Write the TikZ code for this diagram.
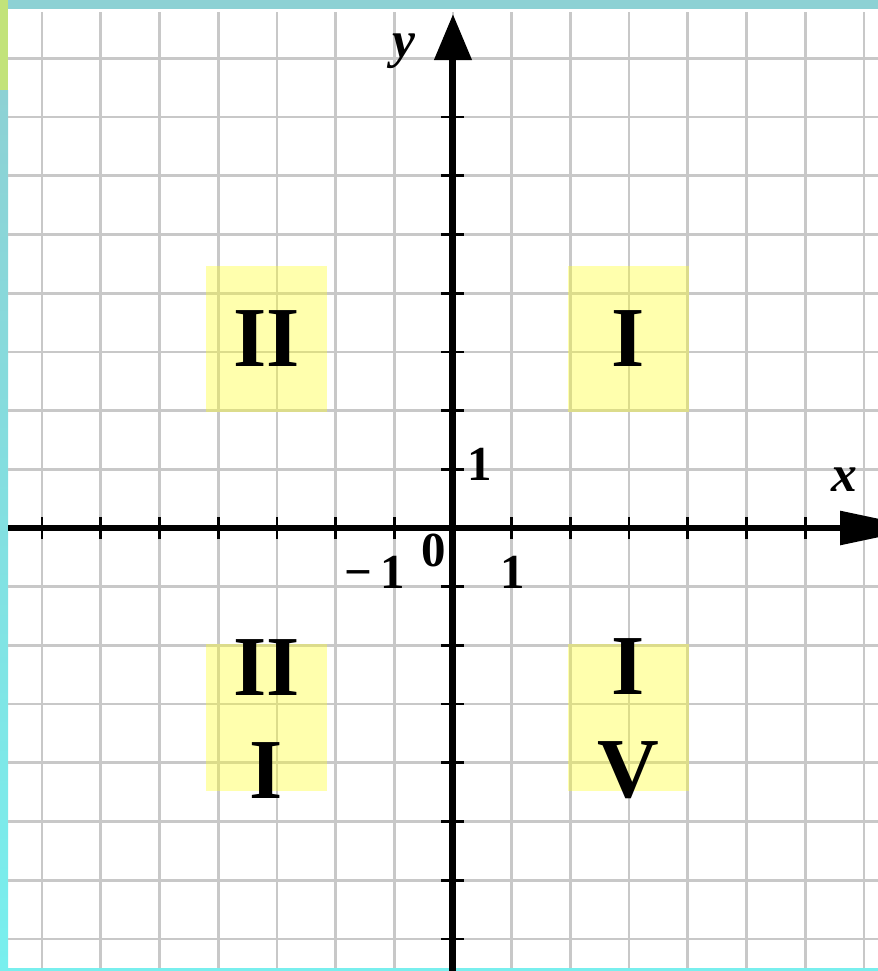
\documentclass[tikz,border=0pt]{standalone}
\usepackage{fontspec}
\setmainfont{Liberation Serif}
\usetikzlibrary{calc,arrows.meta,positioning}
\definecolor{gridgrey}{RGB}{200,200,200}
\definecolor{framecyan}{RGB}{141,209,212}
\definecolor{framelight}{RGB}{120,239,238}
\definecolor{framegreen}{RGB}{194,227,122}
\definecolor{boxyellow}{RGB}{255,255,40}

\begin{document}
\begin{tikzpicture}[x=1cm,y=1cm]

\tikzset{gridline/.style={draw=gridgrey,line width=1.3pt},
axisline/.style={draw=black,line width=2.8pt},
tickline/.style={draw=black,line width=1.3pt},
yellowbox/.style={fill=boxyellow,fill opacity=0.38,inner sep=0pt,minimum width=2.06cm,minimum height=2.5cm},
romannode/.style={inner sep=0pt,align=center,font=\fontsize{41.4}{50}\selectfont\bfseries},
numnode/.style={inner sep=0pt,font=\fontsize{23.7}{28}\selectfont\bfseries},
axislabel/.style={inner sep=0pt,font=\fontsize{25}{30}\selectfont\bfseries\itshape}}

\useasboundingbox (-7.717,-7.547) rectangle (7.240,8.995);
\clip (-7.717,-7.547) rectangle (7.240,8.995);

% Frame
\fill[framecyan] (-7.58,8.84) rectangle (7.24,8.995);
\shade[top color=framecyan,bottom color=framelight] (-7.717,-7.547) rectangle (-7.58,7.46);
\fill[framegreen] (-7.717,7.46) rectangle (-7.58,8.995);
\fill[framelight] (-7.58,-7.547) rectangle (7.24,-7.496);

% Grid
\foreach \x in {-7,...,7} \draw[gridline] (\x,-7.496) -- (\x,8.79);
\foreach \y in {-7,...,8} \draw[gridline] (-7.58,\y) -- (7.24,\y);

% Quarter boxes
\node[yellowbox] (q2) at (-3.178,3.22) {};
\node[yellowbox] (q1) at (2.99,3.22) {};
\node[yellowbox] (q3) at (-3.178,-3.228) {};
\node[yellowbox] (q4) at (2.99,-3.228) {};

% Quarter labels
\node[romannode] (l2) at (q2.center) {II};
\node[romannode] (l1) at (q1.center) {I};
\node[romannode] (l3) at ($(q3.center)+(0,-0.02)$) {II\\I};
\node[romannode] (l4) at ($(q4.center)+(0,-0.02)$) {I\\V};

% Axes
\coordinate (o) at (0,0);
\coordinate (xstart) at (-7.58,0);
\coordinate (xend) at (8.0,0);
\coordinate (ystart) at (0,-7.6);
\coordinate (yend) at (0,8.756);
\draw[axisline,-{Triangle[length=40pt,width=16pt]}] (xstart) -- (xend);
\draw[axisline,line width=3.4pt,-{Triangle[length=22.3pt,width=17.5pt]}] (ystart) -- (yend);

% Ticks
\foreach \x in {-7,...,-1,1,2,...,6} \draw[tickline] (\x,-0.19) -- (\x,0.19);
\foreach \y in {-7,...,-1,1,2,...,7} \draw[tickline] (-0.196,\y) -- (0.196,\y);

% Labels
\node[numnode] (one-y) at (0.46,1.09) {1};
\node[numnode] (zero) at (-0.32,-0.39) {0};
\node[numnode] (minus-one) at (-1.33,-0.75) {−\,1};
\node[numnode] (one-x) at (1.02,-0.75) {1};
\node[axislabel] (xlab) at (6.66,0.82) {x};
\node[axislabel] (ylab) at (-0.83,8.13) {y};

\end{tikzpicture}
\end{document}
